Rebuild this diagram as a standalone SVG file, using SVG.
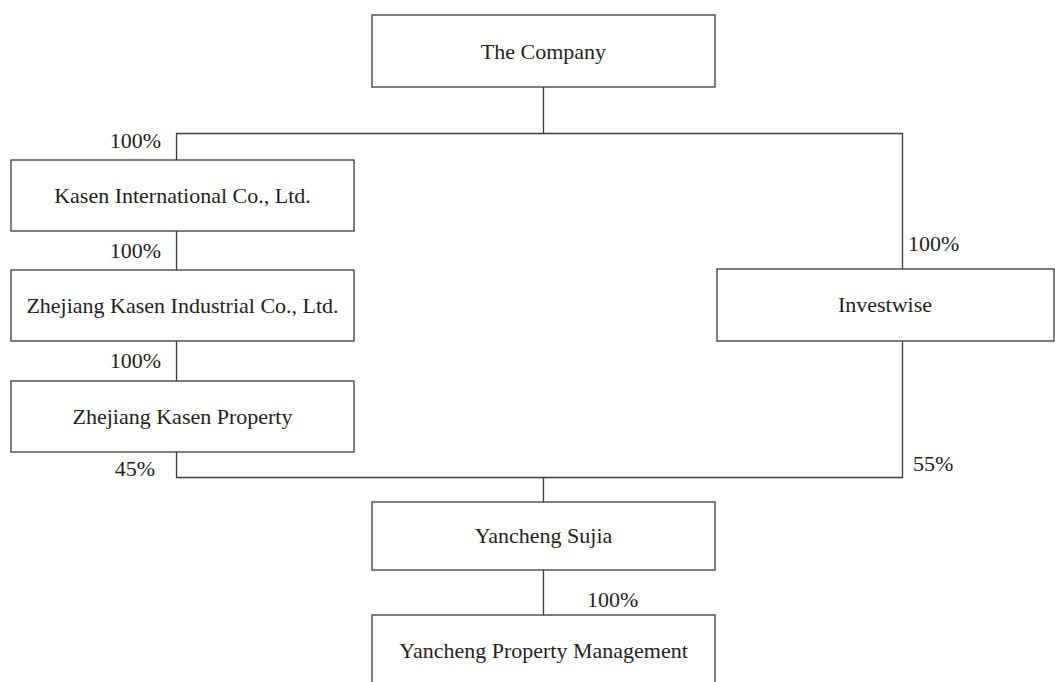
<svg xmlns="http://www.w3.org/2000/svg" width="1055" height="682" viewBox="0 0 1055 682">
<style>
.box{fill:#fff;stroke:#3a3a3a;stroke-width:1.3}
.t{font-family:"Liberation Serif","Times New Roman",serif;font-size:22px;fill:#231f20}
.c{text-anchor:middle}
.e{text-anchor:end}
.ln{fill:none;stroke:#3a3a3a;stroke-width:1.3}
</style>
<rect width="1055" height="682" fill="#fff"/>
<g id="connectors">
<path class="ln" d="M543.5 87V133.5M176.5 160V133.5H902.5V269"/>
<path class="ln" d="M176.5 231V270M176.5 341V381"/>
<path class="ln" d="M176.5 452V477.5H902.5V341M543.5 477.5V502M543.5 570V615"/>
</g>
<g id="labels">
<text class="t e" x="161" y="148">100%</text>
<text class="t e" x="161" y="258">100%</text>
<text class="t e" x="161" y="368">100%</text>
<text class="t e" x="155" y="476">45%</text>
<text class="t" x="908" y="251">100%</text>
<text class="t" x="913" y="471">55%</text>
<text class="t" x="587" y="607">100%</text>
</g>
<g id="company"><rect class="box" x="372" y="15" width="343" height="72"/><text class="t c" x="543.5" y="58.5">The Company</text></g>
<g id="kasen-intl"><rect class="box" x="11" y="160" width="343" height="71"/><text class="t c" x="182.5" y="202.5">Kasen International Co., Ltd.</text></g>
<g id="zj-industrial"><rect class="box" x="11" y="270" width="343" height="71"/><text class="t c" x="182.5" y="312.5">Zhejiang Kasen Industrial Co., Ltd.</text></g>
<g id="zj-property"><rect class="box" x="11" y="381" width="343" height="71"/><text class="t c" x="182.5" y="423.5">Zhejiang Kasen Property</text></g>
<g id="investwise"><rect class="box" x="717" y="269" width="337" height="72"/><text class="t c" x="885" y="312">Investwise</text></g>
<g id="sujia"><rect class="box" x="372" y="502" width="343" height="68"/><text class="t c" x="543.5" y="543">Yancheng Sujia</text></g>
<g id="ypm"><rect class="box" x="372" y="615" width="343" height="90"/><text class="t c" x="543.5" y="658">Yancheng Property Management</text></g>
</svg>
